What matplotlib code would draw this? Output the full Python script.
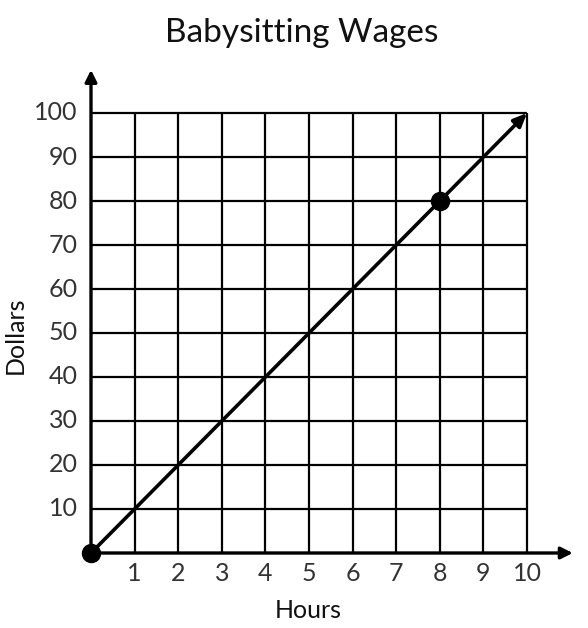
import matplotlib
matplotlib.use("Agg")
import matplotlib.pyplot as plt

hours = [0, 8]
dollars = [0, 80]
line_x = [0, 10]
line_y = [0, 100]
x_ticks = [1, 2, 3, 4, 5, 6, 7, 8, 9, 10]
x_tick_labels = [str(v) for v in x_ticks]
y_ticks = [10, 20, 30, 40, 50, 60, 70, 80, 90, 100]
y_tick_labels = [str(v) for v in y_ticks]

plt.rcParams["font.family"] = ["Lato", "DejaVu Sans"]

fig = plt.figure(figsize=(5.88, 6.28), dpi=100)
ax = fig.add_axes([91 / 588, 75 / 628, 484 / 588, 484 / 628])
ax.set_xlim(0, 11.1)
ax.set_ylim(0, 110)
ax.axis("off")

# grid
for x in x_ticks:
    ax.plot([x, x], [0, 100], color="black", lw=1.6, solid_capstyle="butt", zorder=1)
for y in y_ticks:
    ax.plot([0, 10], [y, y], color="black", lw=1.6, solid_capstyle="butt", zorder=1)

# axes with arrows
ax.annotate("", xy=(11.05, 0), xytext=(0, 0),
            arrowprops=dict(arrowstyle="-|>,head_length=0.7,head_width=0.35",
                            color="black", lw=2.4, shrinkA=0, shrinkB=0), zorder=3)
ax.annotate("", xy=(0, 109.8), xytext=(0, 0),
            arrowprops=dict(arrowstyle="-|>,head_length=0.7,head_width=0.35",
                            color="black", lw=2.4, shrinkA=0, shrinkB=0), zorder=3)

# wage line
ax.annotate("", xy=(line_x[1], line_y[1]), xytext=(line_x[0], line_y[0]),
            arrowprops=dict(arrowstyle="-|>,head_length=0.8,head_width=0.35",
                            color="black", lw=2.6, shrinkA=0, shrinkB=0), zorder=4)
ax.plot(hours, dollars, "o", color="black", markersize=13, zorder=5, clip_on=False)

for x, lab in zip(x_ticks, x_tick_labels):
    ax.text(x, -4.6, lab, ha="center", va="center", fontsize=18,
            fontweight="normal", color="#333333")
for y, lab in zip(y_ticks, y_tick_labels):
    ax.text(-0.3, y, lab, ha="right", va="center", fontsize=18,
            fontweight="normal", color="#333333")

fig.text(302 / 588, 1 - 33 / 628, "Babysitting Wages", ha="center", va="center",
         fontsize=24, color="#111111")
fig.text(308 / 588, 1 - 610 / 628, "Hours", ha="center", va="center",
         fontsize=18, color="#111111")
fig.text(15 / 588, 1 - 335 / 628, "Dollars", ha="center", va="center",
         fontsize=18, rotation=90, color="#111111")

fig.savefig("out.png", dpi=100, facecolor="white")
